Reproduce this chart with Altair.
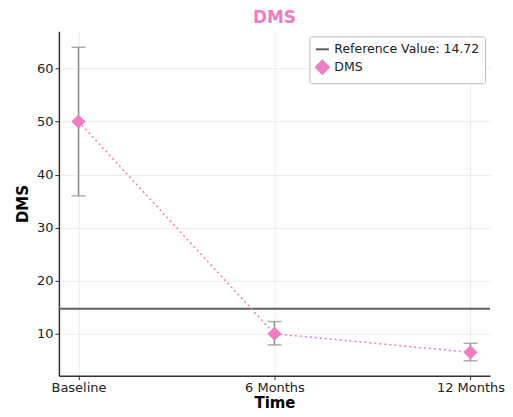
import altair as alt
import pandas as pd

times = ["Baseline", "6 Months", "12 Months"]
means = [50.0, 10.0, 6.5]
lows = [36.0, 7.9, 4.9]
highs = [64.0, 12.3, 8.2]
ref_value = 14.72
ref_label = "Reference Value: 14.72"
series_name = "DMS"

PINK = "#f07cc2"
GRAY = "#8c8c8c"
DARK = "#5e5e5e"

df = pd.DataFrame({"Time": times, "DMS": means, "low": lows, "high": highs,
                   "series": [series_name] * 3})
ref_df = pd.DataFrame({"ref": [ref_value], "series": [ref_label]})

x = alt.X("Time:N", sort=times, title="Time",
          scale=alt.Scale(type="point", padding=0.1),
          axis=alt.Axis(labelAngle=0, grid=True))
yscale = alt.Scale(domain=[2.1, 67], nice=False, zero=False)
yaxis = alt.Axis(values=[10, 20, 30, 40, 50, 60], grid=True)

color = alt.Color("series:N",
                  scale=alt.Scale(domain=[ref_label, series_name], range=[DARK, PINK]),
                  legend=alt.Legend(title=None, orient="top-right", offset=5,
                                    strokeColor="#bbbbbb", padding=5, cornerRadius=2,
                                    fillColor="white", labelFontSize=12.5,
                                    symbolStrokeWidth=2, symbolSize=170,
                                    rowPadding=0, labelColor="#222"))
shape = alt.Shape("series:N",
                  scale=alt.Scale(domain=[ref_label, series_name], range=["stroke", "diamond"]),
                  legend=None)

ref = alt.Chart(ref_df).mark_rule(strokeWidth=2).encode(
    y=alt.Y("ref:Q", scale=yscale, axis=yaxis, title="DMS"),
    color=color,
)

err = alt.Chart(df).mark_rule(color=GRAY, strokeWidth=1.5).encode(
    x=x, y=alt.Y("low:Q", scale=yscale), y2="high:Q")
cap_lo = alt.Chart(df).mark_tick(color=GRAY, size=14, thickness=1.5, orient="horizontal").encode(
    x=x, y=alt.Y("low:Q", scale=yscale))
cap_hi = alt.Chart(df).mark_tick(color=GRAY, size=14, thickness=1.5, orient="horizontal").encode(
    x=x, y=alt.Y("high:Q", scale=yscale))

line = alt.Chart(df).mark_line(color=PINK, strokeDash=[2, 3], strokeWidth=1.5).encode(
    x=x, y=alt.Y("DMS:Q", scale=yscale))

pts = alt.Chart(df).mark_point(filled=True, size=200, opacity=1).encode(
    x=x, y=alt.Y("DMS:Q", scale=yscale), color=color, shape=shape)

chart = alt.layer(ref, line, err, cap_lo, cap_hi, pts).properties(
    width=432, height=345, padding={"left": 7, "top": 1, "right": 0, "bottom": 0},
    title=alt.Title("DMS", color=PINK, fontSize=17, fontWeight="bold", offset=4,
                    font="DejaVu Sans"),
).configure_axis(
    labelFont="DejaVu Sans", titleFont="DejaVu Sans", labelFontSize=13,
    titleFontSize=15, titleFontWeight="bold", titleColor="black", labelColor="#222",
    domainColor="#333", domainWidth=1.5, tickColor="#333", tickSize=4,
    gridColor="#ececec", gridWidth=1,
).configure_axisY(titlePadding=6).configure_axisX(titlePadding=1).configure_legend(
    labelFont="DejaVu Sans").configure_view(stroke=None)

chart.save("out.html", embed_options={"renderer": "svg", "actions": False})
